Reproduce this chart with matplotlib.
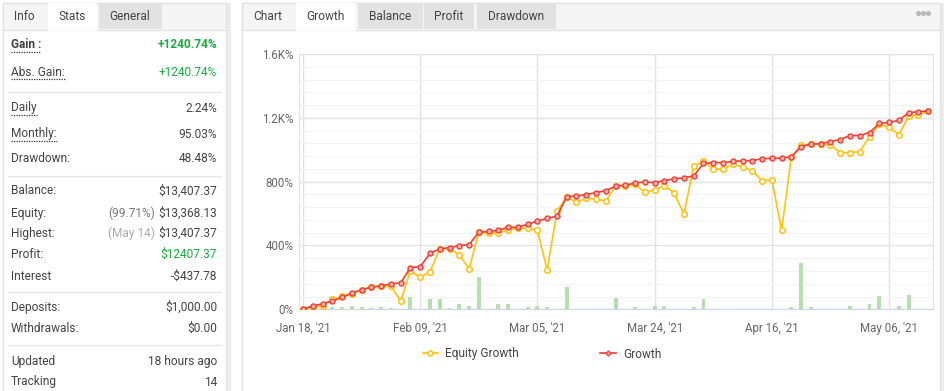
import numpy as np
import matplotlib
matplotlib.use("Agg")
import matplotlib.pyplot as plt
from matplotlib.patches import Rectangle
from matplotlib.lines import Line2D

plt.rcParams['font.family'] = ['Roboto', 'DejaVu Sans']

# ---- data (percent growth per data point) ----
growth = [0, 22, 34, 53, 74, 103, 122, 139, 147, 160, 166, 261, 267, 350, 379, 387,
          399, 405, 482, 489, 495, 514, 514, 533, 552, 571, 583, 706, 710, 719, 731, 744,
          772, 778, 792, 798, 794, 807, 817, 824, 836, 914, 920, 920, 927, 931, 931, 944,
          946, 947, 956, 1020, 1035, 1038, 1051, 1064, 1089, 1089, 1108, 1165, 1171, 1184,
          1232, 1239, 1243]
equity = [0, 16, 21, 63, 82, 95, 122, 141, 144, 145, 53, 242, 200, 236, 377, 378,
          343, 253, 482, 478, 478, 499, 508, 510, 495, 246, 615, 702, 672, 695, 691, 678,
          772, 775, 784, 733, 748, 775, 729, 596, 899, 927, 880, 878, 908, 893, 868, 805,
          812, 495, 956, 1028, 1035, 1035, 1030, 982, 982, 988, 1081, 1161, 1140, 1095,
          1209, 1220, 1241]
bars = [0, 0, 0, 15, 15, 21, 15, 8, 15, 8, 0, 78, 0, 65, 65, 6,
        32, 20, 202, 5, 32, 32, 5, 12, 23, 12, 5, 139, 5, 5, 5, 5,
        68, 0, 13, 5, 19, 19, 5, 0, 14, 65, 5, 5, 5, 5, 5, 5,
        5, 5, 15, 291, 15, 5, 5, 5, 19, 5, 32, 82, 5, 19,
        88, 5, 5]
tick_pos = [0, 12, 24, 36, 48, 60]
tick_labels = ["Jan 18, '21", "Feb 09, '21", "Mar 05, '21", "Mar 24, '21", "Apr 16, '21", "May 06, '21"]
y_ticks = [0, 400, 800, 1200, 1600]
y_labels = ["0%", "400%", "800%", "1.2K%", "1.6K%"]

stats_rows = [
    ("Gain :", "+1240.74%", None, 45, True, "green"),
    ("Abs. Gain:", "+1240.74%", None, 72, False, "green"),
    ("Daily", "2.24%", None, 108, False, None),
    ("Monthly:", "95.03%", None, 134, False, None),
    ("Drawdown:", "48.48%", None, 159, False, None),
    ("Balance:", "$13,407.37", None, 191, False, None),
    ("Equity:", "$13,368.13", "(99.71%)", 213, False, None),
    ("Highest:", "$13,407.37", "(May 14)", 233, False, None),
    ("Profit:", "$12407.37", None, 254, False, "green"),
    ("Interest", "-$437.78", None, 276, False, None),
    ("Deposits:", "$1,000.00", None, 307, False, None),
    ("Withdrawals:", "$0.00", None, 328, False, None),
    ("Updated", "18 hours ago", None, 361, False, None),
    ("Tracking", "14", None, 382, False, None),
]
dotted = ["Gain :", "Abs. Gain:", "Daily", "Monthly:"]

W, H = 945, 391
fig = plt.figure(figsize=(W / 100, H / 100), dpi=100)
fig.patch.set_facecolor('white')

# background / chrome axes in pixel coordinates
bg = fig.add_axes([0, 0, 1, 1], zorder=0)
bg.set_xlim(0, W)
bg.set_ylim(H, 0)
bg.axis('off')

GREEN = '#1aab40'
TXT = '#444444'

# left panel
bg.add_patch(Rectangle((226, 3), 5, H, color='#ececec', lw=0))
bg.add_patch(Rectangle((3, 3), 223, H, facecolor='white', edgecolor='#e2e2e2', lw=1))
bg.add_patch(Rectangle((3, 3), 223, 27, facecolor='#f5f5f5', edgecolor='#e2e2e2', lw=1))
bg.add_patch(Rectangle((48, 3), 49, 28, facecolor='white', lw=0))
bg.add_patch(Rectangle((99, 3), 63, 26, facecolor='#e2e2e2', lw=0))
bg.text(24, 16, "Info", ha='center', va='center', fontsize=8.6, color=TXT)
bg.text(72, 16, "Stats", ha='center', va='center', fontsize=8.6, color=TXT)
bg.text(130, 16, "General", ha='center', va='center', fontsize=8.6, color=TXT)

for yy in [92, 176, 292, 345]:
    bg.plot([8, 221], [yy, yy], color='#e6e6e6', lw=1)

renderer = fig.canvas.get_renderer()
for label, val, pre, yy, bold, col in stats_rows:
    t = bg.text(11, yy, label, ha='left', va='center', fontsize=8.6, color=TXT,
                fontweight='bold' if bold else 'normal')
    v = bg.text(217, yy, val, ha='right', va='center', fontsize=8.6,
                color=GREEN if col else TXT, fontweight='bold' if bold else 'normal')
    if label in dotted:
        bb = t.get_window_extent(renderer)
        bg.plot([11, 11 + bb.width], [yy + 7, yy + 7], color='#333333', lw=0.9, ls=(0, (1, 1)))
    if pre:
        bb = v.get_window_extent(renderer)
        pcol = '#777777' if pre.startswith('(9') else '#aaaaaa'
        bg.text(bb.x0 - 3, yy, pre, ha='right', va='center', fontsize=8.6, color=pcol)

# right panel
bg.add_patch(Rectangle((940, 3), 4, H, color='#ececec', lw=0))
bg.add_patch(Rectangle((242, 3), 698, H, facecolor='white', edgecolor='#e2e2e2', lw=1))
bg.add_patch(Rectangle((242, 3), 698, 27, facecolor='#f5f5f5', edgecolor='#e2e2e2', lw=1))
bg.add_patch(Rectangle((296, 3), 59, 28, facecolor='white', lw=0))
for x0, x1 in [(358, 423), (424, 474), (477, 556)]:
    bg.add_patch(Rectangle((x0, 3), x1 - x0, 26, facecolor='#e2e2e2', lw=0))
for xc, s in [(268, "Chart"), (325, "Growth"), (390, "Balance"), (449, "Profit"), (516, "Drawdown")]:
    bg.text(xc, 16, s, ha='center', va='center', fontsize=8.6, color=TXT)
for dx in (-5, 0, 5):
    bg.plot(923 + dx, 13, marker='o', ms=2.6, color='#b8b8b8', mec='#b8b8b8')

# ---- chart axes ----
L, R, T, B = 299, 933, 54, 309.3
ax = fig.add_axes([L / W, (H - B) / H, (R - L) / W, (B - T) / H], zorder=2)
ax.set_facecolor('white')
x = np.arange(len(growth))

ax.bar(x, bars, width=0.4, color='#b5dfb1', zorder=1)
ax.plot(x, equity, color='#ffc20e', lw=1.2, marker='o', ms=4.0, mfc='white',
        mec='#ffc20e', mew=1.1, zorder=3, label='Equity Growth')
ax.plot(x, growth, color='#ee4035', lw=1.2, marker='o', ms=3.6, mfc='#f7b3ae',
        mec='#ee4035', mew=1.0, zorder=4, label='Growth')

ax.set_xlim(-0.41, 64.5)
ax.set_ylim(0, 1600)
ax.set_yticks(y_ticks)
ax.set_yticklabels(y_labels)
ax.set_yticks(np.arange(0, 1601, 80), minor=True)
ax.set_xticks(tick_pos)
ax.set_xticklabels(tick_labels)
ax.tick_params(axis='both', length=0, labelsize=8.3, labelcolor='#666666')
ax.tick_params(axis='y', pad=4)
ax.tick_params(axis='x', pad=9)
ax.tick_params(axis='y', which='minor', length=0)
ax.grid(axis='y', which='minor', color='#f3f3f3', lw=0.9, zorder=0)
ax.grid(axis='y', which='major', color='#e3e3e3', lw=1, zorder=0)
ax.grid(axis='x', which='major', color='#e3e3e3', lw=1, zorder=0)
ax.set_axisbelow(True)
for s in ['left', 'right', 'top']:
    ax.spines[s].set_color('#e3e3e3')
ax.spines['bottom'].set_color('#ccd6eb')

h1 = Line2D([], [], color='#ffc20e', lw=1.2, marker='o', ms=3.6, mfc='white', mec='#ffc20e', mew=1.1)
h2 = Line2D([], [], color='#ee4035', lw=1.2, marker='D', ms=2.6, mfc='#f7b3ae', mec='#ee4035', mew=0.9)
ax.legend([h1, h2], ['Equity Growth', 'Growth'], ncol=2, loc='center',
          bbox_to_anchor=(542 / W, (H - 354) / H), bbox_transform=fig.transFigure,
          frameon=False, fontsize=8.6, handlelength=1.3, handletextpad=0.6,
          columnspacing=6.8, labelcolor='#444444')

fig.savefig('out.png', dpi=100)
